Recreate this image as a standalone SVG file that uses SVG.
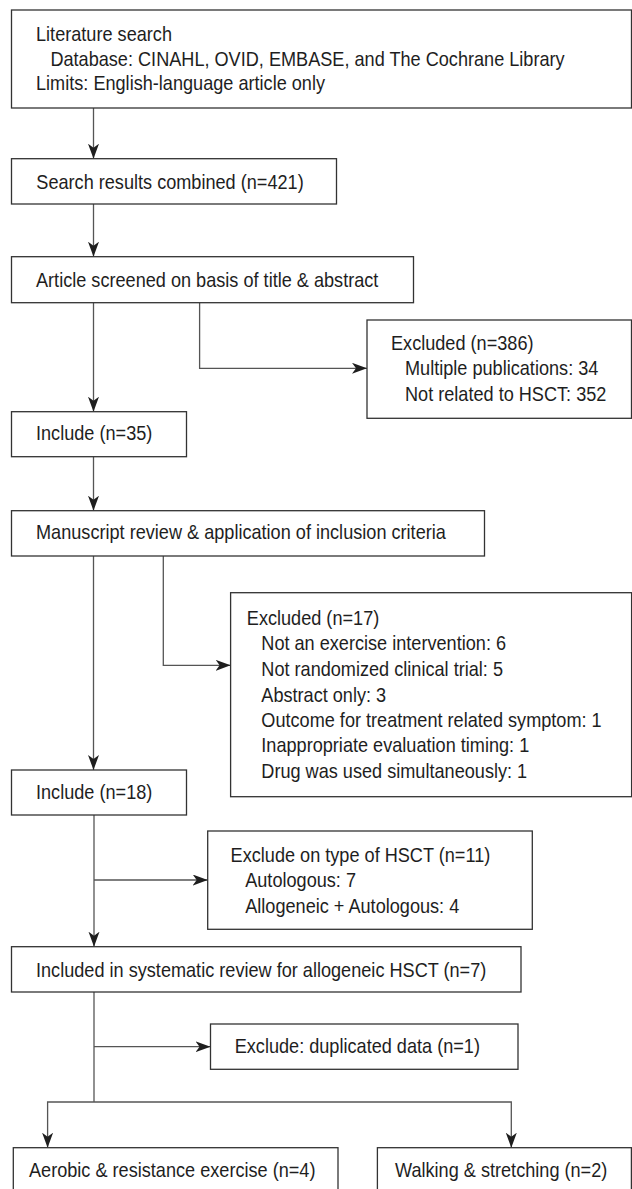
<svg xmlns="http://www.w3.org/2000/svg" width="632" height="1189" viewBox="0 0 632 1189">
<style>
.box{fill:#fff;stroke:#333;stroke-width:1.3}
.t{font-family:"Liberation Sans",Arial,sans-serif;font-size:19.5px;fill:#1e1e1e}
.c{fill:none;stroke:#555;stroke-width:1.3}
</style>
<defs>
<marker id="ah" markerUnits="userSpaceOnUse" markerWidth="16" markerHeight="12" refX="15" refY="5.5" orient="auto">
<path d="M0,0 L15,5.5 L0,11 L4,5.5 Z" fill="#1e1e1e"/>
</marker>
</defs>
<rect width="632" height="1189" fill="#fff"/>
<g id="connectors">
<path class="c" d="M93.5,108 V158.7" marker-end="url(#ah)"/>
<path class="c" d="M93.5,204 V256.7" marker-end="url(#ah)"/>
<path class="c" d="M93.5,302.7 V411.7" marker-end="url(#ah)"/>
<path class="c" d="M199.6,302.7 V368.3 H367" marker-end="url(#ah)"/>
<path class="c" d="M93.5,456.7 V510.7" marker-end="url(#ah)"/>
<path class="c" d="M93.5,556 V770" marker-end="url(#ah)"/>
<path class="c" d="M163.3,556 V665.3 H230.6" marker-end="url(#ah)"/>
<path class="c" d="M94,815 V946.7" marker-end="url(#ah)"/>
<path class="c" d="M94,880 H207.7" marker-end="url(#ah)"/>
<path class="c" d="M94,992 V1102"/>
<path class="c" d="M94,1046.7 H210.5" marker-end="url(#ah)"/>
<path class="c" d="M94,1102 H47.6 V1147.7" marker-end="url(#ah)"/>
<path class="c" d="M94,1102 H511.3 V1147.7" marker-end="url(#ah)"/>
</g>
<g id="n1">
<rect class="box" x="11.5" y="10" width="620" height="98"/>
<g transform="scale(0.93,1)">
<text class="t" x="38.71" y="41.5">Literature search</text>
<text class="t" x="54.19" y="65.7">Database: CINAHL, OVID, EMBASE, and The Cochrane Library</text>
<text class="t" x="38.71" y="90.3">Limits: English-language article only</text>
</g>
</g>
<g id="n2">
<rect class="box" x="11.5" y="158.7" width="325" height="45.3"/>
<text class="t" x="39.03" y="189.3" transform="scale(0.93,1)">Search results combined (n=421)</text>
</g>
<g id="n3">
<rect class="box" x="11.5" y="256.7" width="402" height="46"/>
<text class="t" x="38.71" y="286.7" transform="scale(0.93,1)">Article screened on basis of title &amp; abstract</text>
</g>
<g id="n4">
<rect class="box" x="367" y="320" width="264.5" height="98.3"/>
<g transform="scale(0.93,1)">
<text class="t" x="420.43" y="350">Excluded (n=386)</text>
<text class="t" x="435.48" y="375">Multiple publications: 34</text>
<text class="t" x="435.48" y="400.7">Not related to HSCT: 352</text>
</g>
</g>
<g id="n5">
<rect class="box" x="11.5" y="411.7" width="175" height="45"/>
<text class="t" x="38.71" y="440" transform="scale(0.93,1)">Include (n=35)</text>
</g>
<g id="n6">
<rect class="box" x="11.5" y="510.7" width="473" height="45.3"/>
<text class="t" x="38.71" y="539.3" transform="scale(0.93,1)">Manuscript review &amp; application of inclusion criteria</text>
</g>
<g id="n7">
<rect class="box" x="230.6" y="592.7" width="401" height="204"/>
<g transform="scale(0.93,1)">
<text class="t" x="265.38" y="625">Excluded (n=17)</text>
<text class="t" x="280.97" y="650">Not an exercise intervention: 6</text>
<text class="t" x="280.97" y="676">Not randomized clinical trial: 5</text>
<text class="t" x="280.97" y="701.7">Abstract only: 3</text>
<text class="t" x="280.97" y="726.7">Outcome for treatment related symptom: 1</text>
<text class="t" x="280.97" y="752.3">Inappropriate evaluation timing: 1</text>
<text class="t" x="280.97" y="777.7">Drug was used simultaneously: 1</text>
</g>
</g>
<g id="n8">
<rect class="box" x="11.5" y="770" width="175" height="45"/>
<text class="t" x="38.71" y="799.3" transform="scale(0.93,1)">Include (n=18)</text>
</g>
<g id="n9">
<rect class="box" x="207.7" y="831" width="324.6" height="98.3"/>
<g transform="scale(0.93,1)">
<text class="t" x="247.96" y="861.7">Exclude on type of HSCT (n=11)</text>
<text class="t" x="263.66" y="886.7">Autologous: 7</text>
<text class="t" x="263.66" y="912.7">Allogeneic + Autologous: 4</text>
</g>
</g>
<g id="n10">
<rect class="box" x="11.5" y="946.7" width="509.5" height="45.3"/>
<text class="t" x="38.71" y="977.3" transform="scale(0.93,1)">Included in systematic review for allogeneic HSCT (n=7)</text>
</g>
<g id="n11">
<rect class="box" x="210.5" y="1024" width="307.5" height="45.3"/>
<text class="t" x="252.37" y="1053.3" transform="scale(0.93,1)">Exclude: duplicated data (n=1)</text>
</g>
<g id="n12">
<rect class="box" x="13.3" y="1147.7" width="324.7" height="50"/>
<text class="t" x="31.18" y="1177.3" transform="scale(0.93,1)">Aerobic &amp; resistance exercise (n=4)</text>
</g>
<g id="n13">
<rect class="box" x="377.4" y="1147.7" width="254" height="50"/>
<text class="t" x="424.73" y="1177.3" transform="scale(0.93,1)">Walking &amp; stretching (n=2)</text>
</g>
</svg>
